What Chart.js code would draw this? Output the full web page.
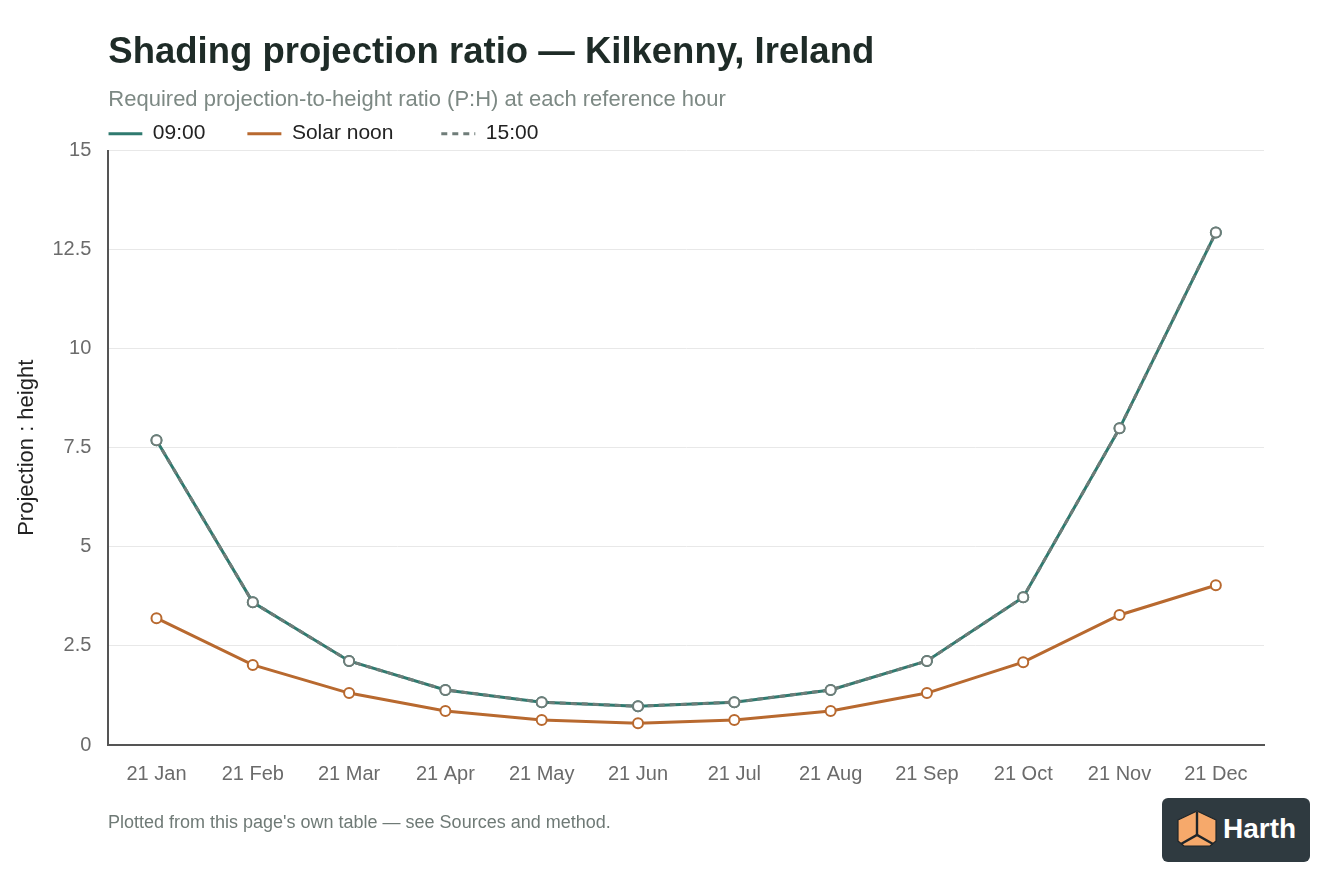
<!DOCTYPE html>
<html>
<head>
<meta charset="utf-8">
<script src="https://cdn.jsdelivr.net/npm/chart.js@4.4.1/dist/chart.umd.min.js"></script>
<style>
  html, body { margin: 0; padding: 0; background: #ffffff; }
  #wrap { position: relative; width: 1344px; height: 896px; overflow: hidden; background: #fff; }
  #chartBox { position: absolute; left: 0; top: 0; width: 1344px; height: 820px; }
  #footer { position: absolute; left: 108px; top: 811px; font-family: "Liberation Sans", Arial, sans-serif; font-size: 18px; line-height: 22px; color: #6f7a76; }
  #logo { position: absolute; left: 1162px; top: 798px; width: 148px; height: 64px; background: #2f3a40; border-radius: 6px; }
  #logo svg { position: absolute; left: 14px; top: 12px; }
  #logo span { position: absolute; left: 61px; top: 15px; font-family: "Liberation Sans", Arial, sans-serif; font-weight: 700; font-size: 28px; line-height: 32px; color: #ffffff; }
</style>
</head>
<body>
<div id="wrap">
  <div id="chartBox"><canvas id="c"></canvas></div>
  <div id="footer">Plotted from this page's own table — see Sources and method.</div>
  <div id="logo">
    <svg width="42" height="38" viewBox="0 0 42 38">
      <polygon points="21,1 40,10 40,31 34,36 8,36 2,31 2,10" fill="#f6a96b" stroke="#1f2529" stroke-width="1.2" stroke-linejoin="round"/>
      <polyline points="21,2 21,25" stroke="#1f2529" stroke-width="2.4" fill="none"/>
      <polyline points="5,34 21,25 37,34" stroke="#1f2529" stroke-width="2.4" fill="none"/>
    </svg>
    <span>Harth</span>
  </div>
</div>
<script>
const categories = ["21 Jan", "21 Feb", "21 Mar", "21 Apr", "21 May", "21 Jun", "21 Jul", "21 Aug", "21 Sep", "21 Oct", "21 Nov", "21 Dec"];
const morning = [7.69, 3.60, 2.12, 1.39, 1.08, 0.98, 1.08, 1.39, 2.12, 3.73, 7.99, 12.93];
const solarNoon = [3.20, 2.02, 1.31, 0.86, 0.63, 0.55, 0.63, 0.86, 1.31, 2.09, 3.28, 4.03];
const afternoon = [7.69, 3.60, 2.12, 1.39, 1.08, 0.98, 1.08, 1.39, 2.12, 3.73, 7.99, 12.93];
const yTicks = [0, 2.5, 5, 7.5, 10, 12.5, 15];

const FONT = '"Liberation Sans", Arial, Helvetica, sans-serif';
const TEAL = '#2f7a6f';
const ORANGE = '#b8692f';
const GREY = '#6f7d79';
const LEGEND_GAPS = ['\u2002\u2002\u2002\u2002', '\u2002\u2002\u2002\u2002 ', ''];

new Chart(document.getElementById('c'), {
  type: 'line',
  data: {
    labels: categories,
    datasets: [
      { label: '09:00', data: morning, borderColor: TEAL, backgroundColor: '#ffffff',
        borderWidth: 3, pointRadius: 5, pointBorderWidth: 2, pointBorderColor: TEAL,
        pointBackgroundColor: '#ffffff', tension: 0, order: 2 },
      { label: 'Solar noon', data: solarNoon, borderColor: ORANGE, backgroundColor: '#ffffff',
        borderWidth: 3, pointRadius: 5, pointBorderWidth: 2, pointBorderColor: ORANGE,
        pointBackgroundColor: '#ffffff', tension: 0, order: 1 },
      { label: '15:00', data: afternoon, borderColor: GREY, backgroundColor: '#ffffff',
        borderWidth: 3, borderDash: [6, 5], pointRadius: 5, pointBorderWidth: 2, pointBorderColor: GREY,
        pointBackgroundColor: '#ffffff', tension: 0, order: 0 }
    ]
  },
  options: {
    responsive: true,
    maintainAspectRatio: false,
    animation: false,
    layout: { padding: { top: 31, right: 80, bottom: 17, left: 14 } },
    plugins: {
      title: {
        display: true, text: 'Shading projection ratio — Kilkenny, Ireland',
        align: 'start', fullSize: false, color: '#1e2b27',
        font: { family: FONT, size: 36.5, weight: 'bold' },
        padding: { top: 0, bottom: 12 }
      },
      subtitle: {
        display: true, text: 'Required projection-to-height ratio (P:H) at each reference hour',
        align: 'start', fullSize: false, color: '#7d8984',
        font: { family: FONT, size: 22 },
        padding: { top: 0, bottom: 10 }
      },
      legend: {
        display: true, position: 'top', align: 'start', fullSize: false, maxHeight: 27.3,
        labels: {
          usePointStyle: true, pointStyle: 'line', pointStyleWidth: 34,
          boxWidth: 34, padding: 0,
          color: '#222222', font: { family: FONT, size: 21 },
          sort: (a, b) => a.datasetIndex - b.datasetIndex,
          generateLabels: (chart) => {
            const items = Chart.defaults.plugins.legend.labels.generateLabels(chart);
            return items.map((it) => {
              const ds = chart.data.datasets[it.datasetIndex];
              it.lineDash = ds.borderDash || [];
              it.lineWidth = 3;
              it.strokeStyle = ds.borderColor;
              it.text = it.text + LEGEND_GAPS[it.datasetIndex];
              return it;
            });
          }
        }
      },
      tooltip: { enabled: false }
    },
    scales: {
      x: {
        offset: true,
        grid: { display: false, drawTicks: false },
        border: { display: true, color: '#555555', width: 2 },
        ticks: { color: '#6b6b6b', font: { family: FONT, size: 20 }, padding: 17, maxRotation: 0 }
      },
      y: {
        min: 0, max: 15,
        afterBuildTicks: (axis) => { axis.ticks = yTicks.map(v => ({ value: v })); },
        grid: { color: '#e8e8e8', lineWidth: 1, drawTicks: false },
        border: { display: true, color: '#555555', width: 2 },
        ticks: { color: '#6b6b6b', font: { family: FONT, size: 20 }, padding: 17 },
        title: { display: true, text: 'Projection : height', color: '#222222',
                 font: { family: FONT, size: 22 }, padding: { top: 0, bottom: -5 } }
      }
    }
  }
});
</script>
</body>
</html>
